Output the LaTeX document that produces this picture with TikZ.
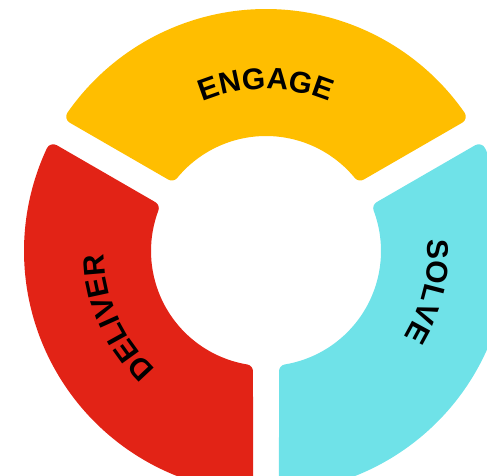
\documentclass[tikz,border=0pt]{standalone}
\usepackage{fontspec}
\setmainfont{Liberation Sans}
\usetikzlibrary{decorations.text,calc}
\definecolor{cyel}{RGB}{255,190,0}
\definecolor{cred}{RGB}{226,35,22}
\definecolor{ccyan}{RGB}{111,226,232}
\newcommand\lblfont{\bfseries\fontsize{30}{32}\selectfont}
% ring segment: colour, start angle, end angle (gap half-width 13, corner radius 7)
\newcommand\ringseg[3]{%
  \path[seg=#1] ($(c)+({#2+4.88}:235)$) arc[start angle={#2+4.88}, end angle={#3-4.88}, radius=235]
    -- ($(c)+({#3-9.44}:122)$) arc[start angle={#3-9.44}, end angle={#2+9.44}, radius=122] -- cycle;}
\tikzset{seg/.style={fill=#1, draw=#1, line width=14pt, line join=round}}
\begin{document}
\begin{tikzpicture}[x=1pt,y=1pt]
\useasboundingbox (0,0) rectangle (487,475);
\clip (0,0) rectangle (487,475);
\coordinate (c) at (266,224);
\ringseg{cyel}{30}{150}
\ringseg{cred}{150}{270}
\ringseg{ccyan}{270}{390}
\path[decorate, decoration={text along path, text align=center, text={|\lblfont|ENGAGE}}]
  ($(c)+(120:162)$) arc[start angle=120, end angle=60, radius=162];
\path[decorate, decoration={text along path, text align=center, text={|\lblfont|DELIVER}}]
  ($(c)+(234:162)$) arc[start angle=234, end angle=174, radius=162];
\path[decorate, decoration={text along path, text align=center, text={|\lblfont|SOLVE}}]
  ($(c)+(16:162)$) arc[start angle=16, end angle=-44, radius=162];
\end{tikzpicture}
\end{document}
